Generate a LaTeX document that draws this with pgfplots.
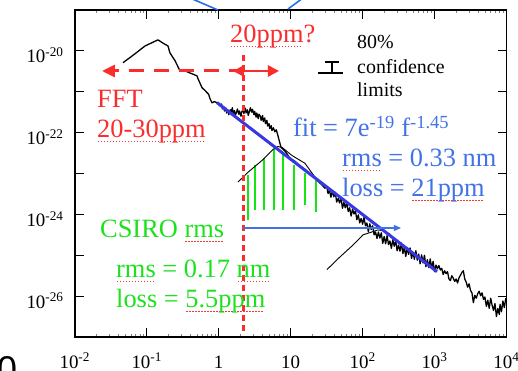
\documentclass[border=0pt]{standalone}
\usepackage{pgfplots}
\pgfplotsset{compat=1.18}
\usepackage{pgfplotstable}
\usetikzlibrary{arrows.meta}
\usepackage{fontspec}
\setmainfont{Liberation Serif}
\newfontfamily\sansbig{Liberation Sans}

\definecolor{tred}{RGB}{250,45,45}
\definecolor{sqred}{RGB}{235,60,60}
\definecolor{tgreen}{RGB}{30,225,30}
\definecolor{lgreen}{RGB}{20,230,20}
\definecolor{tblue}{RGB}{66,114,232}
\definecolor{fitblue}{RGB}{55,55,228}
\definecolor{strayblue}{RGB}{40,110,230}

\newlength\sqw
\newcommand\sq[1]{\settowidth\sqw{#1}\makebox[0pt][l]{\color{sqred}\raisebox{-4bp}[0pt][0pt]{\hbox to \sqw{\leaders\hbox to 3bp{\hss\rule{1.3bp}{1.3bp}\hss}\hfill}}}#1}

% main spectrum: log10(f)  log10(S)
\pgfplotstableread{
lf ls
-1.330 -20.29
-1.163 -20.07
-1.024 -19.88
-0.844 -19.73
-0.774 -19.81
-0.705 -19.88
-0.677 -20.05
-0.607 -20.24
-0.538 -20.49
-0.468 -20.49
-0.399 -20.54
-0.302 -20.61
-0.288 -20.68
-0.232 -20.90
-0.190 -20.97
-0.163 -21.02
-0.140 -21.06
-0.121 -21.17
-0.093 -21.27
-0.060 -21.24
-0.024 -21.27
0.00 -21.28
0.02 -21.35
0.04 -21.30
0.05 -21.42
0.07 -21.36
0.08 -21.47
0.10 -21.40
0.11 -21.52
0.13 -21.45
0.14 -21.56
0.16 -21.44
0.17 -21.50
0.19 -21.39
0.20 -21.54
0.22 -21.46
0.23 -21.58
0.25 -21.49
0.26 -21.42
0.28 -21.55
0.29 -21.47
0.31 -21.60
0.32 -21.50
0.34 -21.42
0.35 -21.53
0.37 -21.40
0.38 -21.52
0.40 -21.44
0.41 -21.58
0.43 -21.47
0.44 -21.39
0.46 -21.50
0.47 -21.43
0.49 -21.56
0.50 -21.48
0.52 -21.62
0.53 -21.52
0.55 -21.66
0.56 -21.55
0.58 -21.60
0.59 -21.70
0.61 -21.58
0.62 -21.73
0.64 -21.64
0.65 -21.78
0.67 -21.70
0.68 -21.84
0.70 -21.78
0.71 -21.90
0.73 -21.83
0.74 -21.95
0.76 -21.88
0.78 -21.98
0.80 -21.93
0.82 -22.05
0.83 -22.12
0.866 -22.36
0.93 -22.47
0.991 -22.63
1.06 -22.70
1.130 -22.82
1.20 -22.90
1.269 -23.02
1.33 -23.10
1.380 -23.19
1.43 -23.27
1.477 -23.36
1.50 -23.31
1.52 -23.49
1.54 -23.41
1.56 -23.58
1.58 -23.42
1.60 -23.57
1.62 -23.46
1.64 -23.70
1.66 -23.61
1.68 -23.72
1.70 -23.59
1.72 -23.85
1.74 -23.71
1.76 -23.84
1.78 -23.70
1.80 -23.93
1.82 -23.84
1.84 -24.04
1.86 -23.87
1.88 -23.99
1.90 -23.91
1.92 -24.13
1.94 -24.01
1.96 -24.21
1.98 -24.10
2.00 -24.24
2.02 -24.07
2.04 -24.28
2.06 -24.21
2.08 -24.43
2.10 -24.23
2.12 -24.37
2.14 -24.28
2.16 -24.50
2.18 -24.43
2.20 -24.59
2.22 -24.43
2.24 -24.58
2.26 -24.45
2.28 -24.71
2.30 -24.54
2.32 -24.72
2.34 -24.52
2.36 -24.74
2.38 -24.65
2.40 -24.83
2.42 -24.62
2.44 -24.78
2.46 -24.64
2.48 -24.89
2.50 -24.75
2.52 -24.90
2.54 -24.70
2.56 -24.96
2.58 -24.80
2.60 -25.03
2.62 -24.81
2.64 -24.98
2.66 -24.82
2.68 -25.08
2.70 -24.93
2.72 -25.10
2.74 -24.89
2.76 -25.12
2.78 -24.97
2.80 -25.21
2.82 -24.99
2.84 -25.19
2.86 -25.00
2.88 -25.28
2.90 -25.11
2.92 -25.30
2.94 -25.09
2.96 -25.32
2.98 -25.15
3.00 -25.40
3.02 -25.24
3.04 -25.33
3.06 -25.25
3.08 -25.36
3.10 -25.32
3.12 -25.47
3.14 -25.38
3.16 -25.45
3.18 -25.40
3.20 -25.58
3.22 -25.62
3.24 -25.50
3.26 -25.56
3.28 -25.64
3.30 -25.58
3.32 -25.68
3.34 -25.55
3.36 -25.49
3.38 -25.42
3.40 -25.38
3.42 -25.58
3.44 -25.66
3.46 -25.78
3.48 -25.70
3.50 -25.86
3.52 -25.92
3.54 -26.16
3.56 -25.98
3.58 -26.05
3.60 -25.94
3.62 -25.88
3.64 -25.99
3.66 -25.92
3.68 -26.08
3.70 -26.02
3.72 -26.25
3.74 -26.10
3.76 -26.30
3.78 -26.05
3.80 -26.22
3.82 -26.35
3.84 -26.18
3.86 -26.50
3.88 -26.30
3.90 -26.45
3.91 -26.20
3.93 -26.38
3.95 -26.12
3.97 -26.28
3.99 -26.05
}\mainspec

% CSIRO spectrum (hump)
\pgfplotstableread{
lf ls
0.268 -23.21
0.407 -22.97
0.602 -22.68
0.755 -22.41
0.824 -22.34
0.880 -22.36
1.019 -22.56
1.199 -22.75
1.338 -23.09
1.436 -23.26
}\humpone

% second spectrum (hump near 200)
\pgfplotstableread{
lf ls
1.505 -25.35
1.686 -25.04
1.867 -24.75
2.006 -24.50
2.131 -24.43
2.214 -24.38
2.284 -24.40
2.381 -24.48
}\humptwo

% power-law fit
\pgfplotstableread{
lf ls
-0.024 -21.265
3.034 -25.401
}\fitline

\newcommand\gline[3]{\addplot[lgreen, line width=2bp] table[row sep=\\, x expr=10^\thisrow{a}, y expr=10^\thisrow{b}] {a b\\ #1 #2\\ #1 #3\\};}

\begin{document}
\begin{tikzpicture}
\useasboundingbox (-74.8bp,-34bp) rectangle (443.2bp,337bp);
\begin{axis}[
  at={(0,0)}, anchor=south west,
  scale only axis, width=431.7bp, height=327bp,
  xmode=log, ymode=log,
  xmin=1e-2, xmax=1e4, ymin=1e-27, ymax=1e-19,
  xtick={1e-2,1e-1,1,10,100,1000,10000},
  xticklabels={10\textsuperscript{-2},10\textsuperscript{-1},1,10,10\textsuperscript{2},10\textsuperscript{3},10\textsuperscript{4}},
  ytick={1e-27,1e-26,1e-25,1e-24,1e-23,1e-22,1e-21,1e-20,1e-19},
  yticklabels={,10\textsuperscript{-26},,10\textsuperscript{-24},,10\textsuperscript{-22},,10\textsuperscript{-20},},
  tick align=inside,
  major tick length=9bp,
  minor tick length=3bp,
  minor y tick style={draw=none},
  minor x tick style={line width=0.5bp},
  axis line style={line width=1.6bp},
  major tick style={black, line width=1.2bp},
  tick label style={font=\fontsize{19}{20}\selectfont},
  xticklabel style={anchor=base, yshift=-31bp, inner sep=0pt},
  yticklabel style={anchor=base east, xshift=-11bp, yshift=-12bp, inner sep=0pt},
  clip=false,
]
\gline{0.407}{-23.04}{-24.14}
\gline{0.505}{-22.80}{-23.89}
\gline{0.630}{-22.63}{-23.89}
\gline{0.769}{-22.41}{-23.89}
\gline{0.894}{-22.51}{-23.89}
\gline{1.047}{-22.80}{-23.89}
\gline{1.199}{-22.99}{-23.77}
\gline{1.352}{-23.16}{-23.94}
\addplot[black, line width=0.9bp] table[x expr=10^\thisrow{lf}, y expr=10^\thisrow{ls}] {\humpone};
\addplot[black, line width=0.9bp] table[x expr=10^\thisrow{lf}, y expr=10^\thisrow{ls}] {\humptwo};
\addplot[black, line width=1.3bp, line join=round] table[x expr=10^\thisrow{lf}, y expr=10^\thisrow{ls}] {\mainspec};
\addplot[fitblue, line width=3bp] table[x expr=10^\thisrow{lf}, y expr=10^\thisrow{ls}] {\fitline};
\end{axis}
% annotations in pixel coordinates of the reference
\begin{scope}[x=1bp, y=-1bp, shift={(-74.8bp,337bp)}]
\draw[strayblue, line width=1.6bp] (190,-2) -- (218,10);
\draw[strayblue, line width=1.6bp] (288,9) -- (303,-2);
\draw[tred, line width=3bp, dash pattern=on 6bp off 4bp] (244,55) -- (244,332);
\draw[tred, line width=3bp, dash pattern=on 15bp off 10bp, -{Triangle[length=13bp,width=12bp]}] (244,71) -- (102,71);
\draw[tred, line width=2.6bp, {Triangle[length=11bp,width=11bp]}-{Triangle[length=11bp,width=11bp]}] (233,71) -- (279,71);
\draw[tblue, line width=1.2bp, -{Triangle[length=7bp,width=6bp]}] (243,228) -- (401,228);
% confidence symbol
\draw[black, line width=1.2bp] (325,62) -- (339,62) (332,62) -- (332,73) (318,73) -- (343,73);
\begin{scope}[every node/.style={anchor=base west, inner sep=0pt}]
\node[text=tred, font=\fontsize{26.5}{30}\selectfont] at (230,43) {\sq{20ppm}?};
\node[text=tred, font=\fontsize{26.5}{30}\selectfont] at (97,108) {FFT};
\node[text=tred, font=\fontsize{26.5}{30}\selectfont] at (97,138) {\sq{20-30ppm}};
\node[text=tblue, font=\fontsize{26.5}{30}\selectfont] at (293,137) {fit = 7e\textsuperscript{-19} f\textsuperscript{-1.45}};
\node[text=tblue, font=\fontsize{26.5}{30}\selectfont] at (342,167) {\sq{rms} = 0.33 nm};
\node[text=tblue, font=\fontsize{26.5}{30}\selectfont] at (342,197) {loss = \sq{21ppm}};
\node[text=tgreen, font=\fontsize{26.5}{30}\selectfont] at (100,238) {CSIRO \sq{rms}};
\node[text=tgreen, font=\fontsize{26.5}{30}\selectfont] at (116,278) {\sq{rms} = 0.17 \sq{nm}};
\node[text=tgreen, font=\fontsize{26.5}{30}\selectfont] at (116,308) {loss = \sq{5.5ppm}};
\node[font=\fontsize{20}{22}\selectfont] at (357,49) {80\%};
\node[font=\fontsize{20}{22}\selectfont] at (357,74) {confidence};
\node[font=\fontsize{20}{22}\selectfont] at (357,97) {limits};
\end{scope}
\node[anchor=north west, inner sep=0pt, font=\sansbig\fontsize{36}{40}\selectfont] at (-3,356) {0};
\end{scope}
\end{tikzpicture}
\end{document}
